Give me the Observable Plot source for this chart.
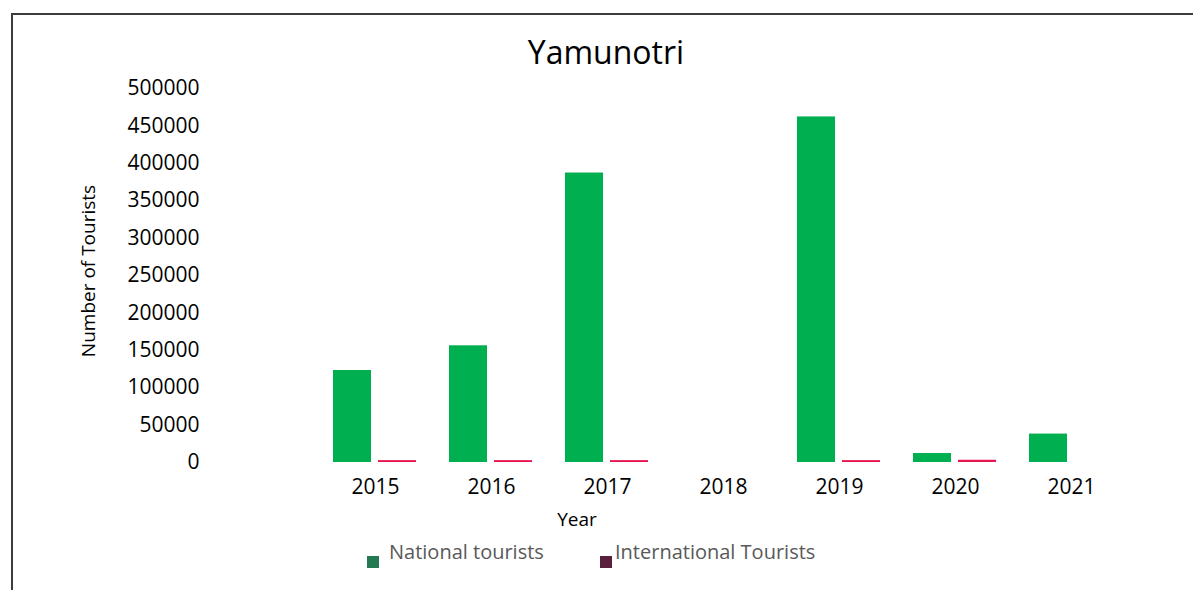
<!DOCTYPE html>
<html>
<head>
<meta charset="utf-8">
<script src="https://cdn.jsdelivr.net/npm/d3@7"></script>
<script src="https://cdn.jsdelivr.net/npm/@observablehq/plot@0.6"></script>
<style>
  html, body { margin: 0; padding: 0; background: #fff; }
  #wrap { position: relative; width: 1193px; height: 590px; overflow: hidden; background: #fff; font-family: "Open Sans", sans-serif; }
  #border { position: absolute; left: 11px; top: 13px; width: 1190px; height: 590px; border-top: 2px solid #3c3c3c; border-left: 2px solid #3c3c3c; box-sizing: border-box; }
  #chart { position: absolute; left: 0; top: 0; }
  .t { position: absolute; line-height: 1; white-space: nowrap; }
  #title { font-size: 32px; color: #000; left: 606px; top: 36px; transform: translateX(-50%); }
  #xlab { font-size: 19px; color: #000; left: 577px; top: 510px; transform: translateX(-50%); }
  #ylab { font-size: 19px; color: #000; left: 88px; top: 271px; transform: translate(-50%, -50%) rotate(-90deg); }
  .leg { font-size: 20px; color: #595959; top: 542px; }
  .sw { position: absolute; width: 12px; height: 12px; top: 556px; }
</style>
</head>
<body>
<div id="wrap">
  <div id="border"></div>
  <div id="chart"></div>
  <div class="t" id="title">Yamunotri</div>
  <div class="t" id="xlab">Year</div>
  <div class="t" id="ylab">Number of Tourists</div>
  <div class="sw" style="left:367px;background:#237a52"></div>
  <div class="t leg" style="left:389px">National tourists</div>
  <div class="sw" style="left:600px;background:#5a1f3b"></div>
  <div class="t leg" style="left:615px">International Tourists</div>
</div>
<script>
const years = ["2015", "2016", "2017", "2018", "2019", "2020", "2021"];
const series = ["National tourists", "International Tourists"];
const national = [123000, 156000, 387000, 0, 462000, 12000, 38000];
const international = [2500, 2500, 2500, 0, 2500, 3000, 0];
const colors = ["#00b050", "#e8144f"];
const yTicks = [0, 50000, 100000, 150000, 200000, 250000, 300000, 350000, 400000, 450000, 500000];

const data = [];
years.forEach((y, i) => {
  data.push({year: y, series: series[0], value: national[i]});
  data.push({year: y, series: series[1], value: international[i]});
});

const chart = Plot.plot({
  width: 1193,
  height: 590,
  marginTop: 88,
  marginBottom: 128,
  marginLeft: 317,
  marginRight: 64,
  style: {fontFamily: "'Open Sans', sans-serif", fontSize: "21px", color: "#000", background: "transparent"},
  fx: {domain: years, paddingInner: 0.28, paddingOuter: 0.14, label: null, axis: "bottom", tickSize: 0, tickPadding: 17},
  x: {domain: series, paddingInner: 0.15, paddingOuter: 0, axis: null},
  y: {domain: [0, 500000], ticks: yTicks, tickFormat: d3.format("d"), tickSize: 0, tickPadding: 134, label: null},
  color: {domain: series, range: colors},
  marks: [
    Plot.barY(data, {fx: "year", x: "series", y: "value", fill: "series"})
  ]
});
document.getElementById("chart").appendChild(chart);
</script>
</body>
</html>
